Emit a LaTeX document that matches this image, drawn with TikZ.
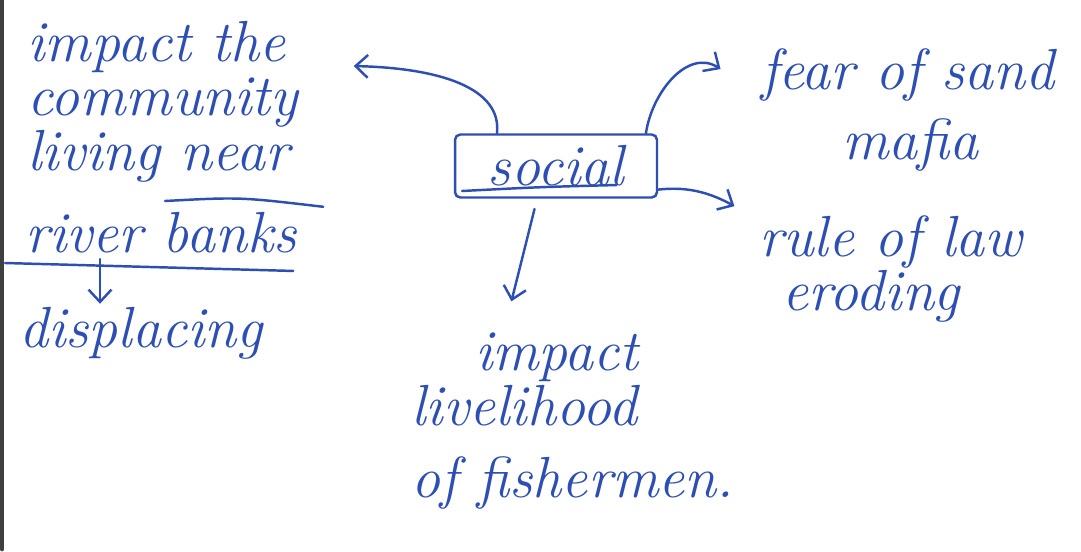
\documentclass[tikz,border=0pt]{standalone}
\usepackage{fontspec}
\usetikzlibrary{arrows.meta,positioning}
\definecolor{ink}{RGB}{45,78,178}
\tikzset{>={Straight Barb[length=7pt,width=13pt]},shorten >=1pt,auto}
\tikzset{note/.style={text=ink,font=\fontsize{33}{31}\selectfont\itshape,inner sep=0pt}}

\begin{document}
\begin{tikzpicture}[x=0.02cm,y=-0.02cm,line width=1.4pt,line cap=round]
        \useasboundingbox[fill=white] (0,0) rectangle (1081,551);
        \draw[line width=2.4pt,black!75] (2,0) -- (2,551);

        \node[note,draw=ink,rounded corners=3pt,minimum width=4.04cm,minimum height=1.26cm] (social) at (556,166) {social\hspace{.6em}};
        \node[note,align=left,anchor=north west] (comm) at (26,20) {impact the\\community\\living near};
        \node[note,anchor=base west] (river) at (24,252) {river banks};
        \node[note,anchor=base west] (displ) at (18,347) {displacing};
        \node[note,align=left,anchor=north west] (fear) at (760,47) {fear of sand\\[9pt]\hspace{1.4em}mafia};
        \node[note,align=left,anchor=north west] (rule) at (758,214) {rule of law\\\hspace{.4em}eroding};
        \node[note,align=left,anchor=north west] (live) at (410,332) {\hspace{1.1em}impact\\livelihood\\[10pt]of fishermen.};

        \coordinate (ltip) at (352,66);
        \coordinate (ftip) at (722,70);
        \coordinate (rtip) at (736,207);
        \coordinate (btip) at (511,303);

        \begin{scope}[draw=ink]
            \draw[->] (social.151) .. controls (502,88) and (440,68) .. (ltip);
            \draw[->] (social.20) .. controls (652,92) and (688,48) .. (ftip);
            \draw[->] (social.-13) .. controls (690,186) and (712,194) .. (rtip);
            \draw[->,shorten <=6pt] (social.240) -- (btip);
            \draw[->,shorten <=3pt] (river.south -| 100,0) -- (displ.north -| 100,0);
            % hand underlines
            \draw (165,201) .. controls (240,197) .. (325,207);
            \draw (5,263) -- (295,271);
            \draw (462,191) .. controls (540,187) .. (618,185);
        \end{scope}
    \end{tikzpicture}
\end{document}
